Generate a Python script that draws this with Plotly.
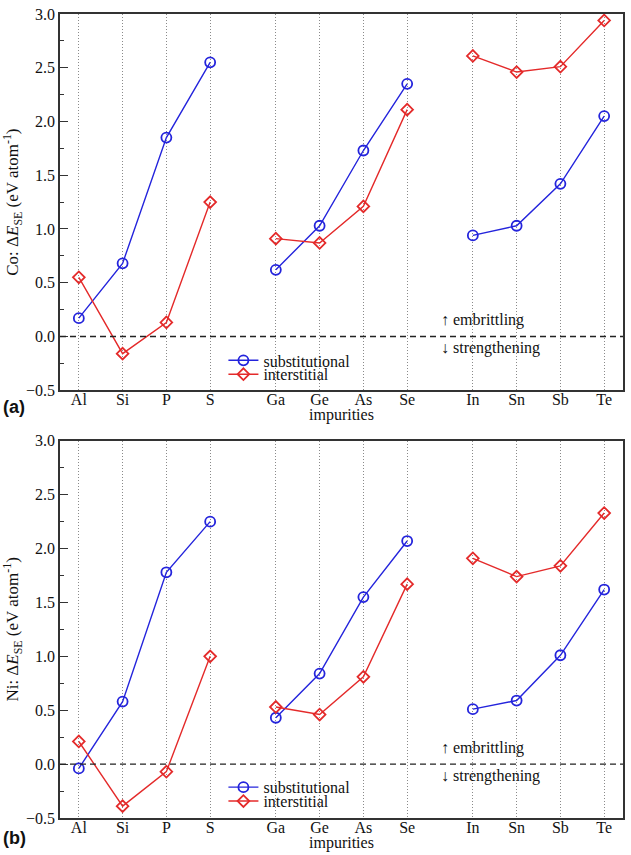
import plotly.graph_objects as go
from plotly.subplots import make_subplots

# ---- data ----
elements = ["Al", "Si", "P", "S", "Ga", "Ge", "As", "Se", "In", "Sn", "Sb", "Te"]
x_pos = [1, 2, 3, 4, 5.5, 6.5, 7.5, 8.5, 10, 11, 12, 13]

co_sub = [0.17, 0.68, 1.85, 2.55, 0.62, 1.03, 1.73, 2.35, 0.94, 1.03, 1.42, 2.05]
co_int = [0.55, -0.16, 0.13, 1.25, 0.91, 0.87, 1.21, 2.11, 2.61, 2.46, 2.51, 2.94]
ni_sub = [-0.04, 0.58, 1.78, 2.25, 0.43, 0.84, 1.55, 2.07, 0.51, 0.59, 1.01, 1.62]
ni_int = [0.21, -0.39, -0.07, 1.00, 0.53, 0.46, 0.81, 1.67, 1.91, 1.74, 1.84, 2.33]

series_names = ["substitutional", "interstitial"]
y_ticks = [-0.5, 0.0, 0.5, 1.0, 1.5, 2.0, 2.5, 3.0]

BLUE = "#2424dc"
RED = "#e42a2a"
FONT = "Liberation Serif, Times New Roman, serif"
TXT = "#111"


def with_gaps(xs, ys):
    gx, gy = [], []
    for i, (a, b) in enumerate(zip(xs, ys)):
        if i > 0 and i % 4 == 0:
            gx.append(None)
            gy.append(None)
        gx.append(a)
        gy.append(b)
    return gx, gy


fig = make_subplots(rows=2, cols=1, vertical_spacing=0.063)

panels = [(co_sub, co_int, "legend2", "legend3"), (ni_sub, ni_int, "legend4", "legend5")]
for r, (sub, inter, leg_a, leg_b) in enumerate(panels, start=1):
    gx, gy = with_gaps(x_pos, sub)
    fig.add_trace(go.Scatter(x=gx, y=gy, mode="lines+markers", name=series_names[0],
                             line=dict(color=BLUE, width=1.4),
                             marker=dict(symbol="circle-open", size=10, color=BLUE,
                                         line=dict(width=1.8, color=BLUE)),
                             connectgaps=False, legend=leg_a), row=r, col=1)
    gx, gy = with_gaps(x_pos, inter)
    fig.add_trace(go.Scatter(x=gx, y=gy, mode="lines+markers", name=series_names[1],
                             line=dict(color=RED, width=1.4),
                             marker=dict(symbol="diamond-open", size=9, color=RED,
                                         line=dict(width=1.8, color=RED)),
                             connectgaps=False, legend=leg_b), row=r, col=1)

# geometry in page pixels
TOP, BOT = 8, 818
H_PAPER = float(BOT - TOP)
def py(yref):
    return (BOT - yref) / H_PAPER
def px(xref):
    return (xref - 60) / 565.0

top_dom = [py(387), 1.0]
bot_dom = [0.0, py(438)]

axis_common = dict(showline=True, linecolor="#333", linewidth=1.5, mirror=True)

for r, dom in [(1, top_dom), (2, bot_dom)]:
    fig.update_xaxes(range=[0.57, 13.43], tickvals=x_pos, ticktext=elements,
                     showgrid=True, gridcolor="#8a8a8a", griddash="1px,2px", gridwidth=1,
                     ticks="", ticklen=0, ticklabelstandoff=-6, zeroline=False,
                     tickfont=dict(family=FONT, size=16, color=TXT),
                     **axis_common, row=r, col=1)
    fig.update_yaxes(range=[-0.5, 3.0], tickvals=y_ticks, tickformat=".1f",
                     ticks="inside", ticklen=8, tickwidth=1.3, tickcolor="#333",
                     minor=dict(ticks="inside", ticklen=4, dtick=0.25, tickcolor="#333", tickwidth=1.3),
                     showgrid=False, zeroline=False, domain=dom,
                     tickfont=dict(family=FONT, size=16, color=TXT),
                     **axis_common, row=r, col=1)

fig.update_yaxes(title=dict(text="Co: Δ<i>E</i><sub>SE</sub> (eV atom<sup>-1</sup>)",
                            font=dict(family=FONT, size=17, color=TXT), standoff=7), row=1, col=1)
fig.update_yaxes(title=dict(text="Ni: Δ<i>E</i><sub>SE</sub> (eV atom<sup>-1</sup>)",
                            font=dict(family=FONT, size=17, color=TXT), standoff=7), row=2, col=1)

# dashed zero lines
for ax in ["", "2"]:
    fig.add_shape(type="line", xref=f"x{ax} domain", yref=f"y{ax}", x0=0, x1=1, y0=0, y1=0,
                  line=dict(color="#222", width=1.4, dash="6px,4px"))

annos = []
for ax, yimp in [("", 412), ("2", 843)]:
    annos.append(dict(text="impurities", xref=f"x{ax} domain", yref="paper", x=0.5,
                      y=py(yimp), xanchor="center", yanchor="middle", showarrow=False,
                      font=dict(family=FONT, size=16, color=TXT)))
    annos.append(dict(text="↑ embrittling", xref=f"x{ax}", yref=f"y{ax}", x=9.22, y=0.15,
                      xanchor="left", yanchor="middle", showarrow=False,
                      font=dict(family=FONT, size=16, color=TXT)))
    annos.append(dict(text="↓ strengthening", xref=f"x{ax}", yref=f"y{ax}", x=9.22, y=-0.11,
                      xanchor="left", yanchor="middle", showarrow=False,
                      font=dict(family=FONT, size=16, color=TXT)))
annos.append(dict(text="<b>(a)</b>", xref="paper", yref="paper", x=px(1), y=py(404),
                  xanchor="left", yanchor="middle", showarrow=False,
                  font=dict(family="Liberation Sans, Arial, sans-serif", size=18, color=TXT)))
annos.append(dict(text="<b>(b)</b>", xref="paper", yref="paper", x=px(1), y=py(838),
                  xanchor="left", yanchor="middle", showarrow=False,
                  font=dict(family="Liberation Sans, Arial, sans-serif", size=18, color=TXT)))

leg_common = dict(xanchor="left", yanchor="middle", bgcolor="rgba(0,0,0,0)", borderwidth=0,
                  font=dict(family=FONT, size=16, color=TXT), itemwidth=30,
                  tracegroupgap=0)
LX = px(224)
fig.update_layout(
    width=631, height=855,
    margin=dict(l=60, r=6, t=TOP, b=855 - BOT),
    paper_bgcolor="white", plot_bgcolor="white",
    annotations=annos,
    legend2=dict(x=LX, y=py(357), **leg_common),
    legend3=dict(x=LX, y=py(371), **leg_common),
    legend4=dict(x=LX, y=py(787), **leg_common),
    legend5=dict(x=LX, y=py(801), **leg_common),
)

fig.write_html("out.html", config={"displayModeBar": False},
               post_script="document.body.style.margin='0';document.body.style.overflow='hidden';")
